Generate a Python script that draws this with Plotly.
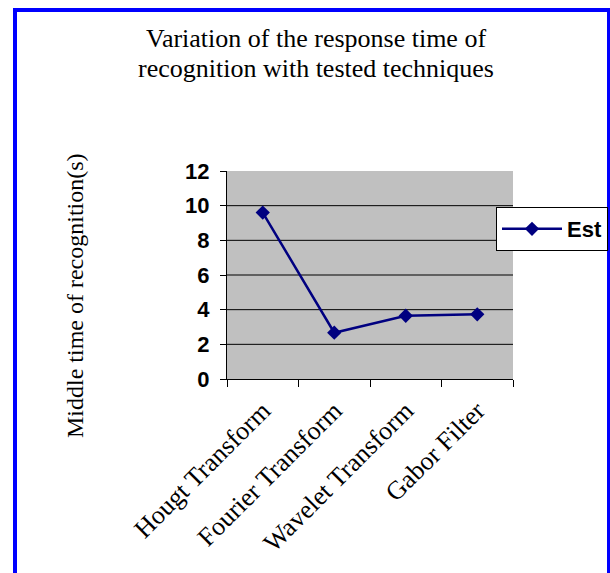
import plotly.graph_objects as go

categories = ["Hougt Transform", "Fourier Transform", "Wavelet Transform", "Gabor Filter"]
est_values = [9.6, 2.67, 3.65, 3.73]
y_ticks = [0, 2, 4, 6, 8, 10, 12]
grid_levels = [2, 4, 6, 8, 10]
title_lines = ["Variation of the response time of", "recognition with tested techniques"]
y_title = "Middle time of recognition(s)"
series_name = "Est"

W, H = 610, 573
L, R, T, B = 227, 97, 171, 194
pw, ph = W - L - R, H - T - B

def px(x):
    return (x - L) / pw

def py(y):
    return (H - B - y) / ph

fig = go.Figure()
fig.add_trace(go.Scatter(
    x=categories, y=est_values, name=series_name, mode="lines+markers",
    line=dict(color="#000080", width=2.5),
    marker=dict(symbol="diamond", size=11, color="#000080"),
))

shapes = []
for g in grid_levels:
    shapes.append(dict(type="line", xref="paper", yref="y", x0=0, x1=1, y0=g, y1=g,
                       line=dict(color="black", width=1), layer="below"))
shapes.append(dict(type="rect", xref="paper", yref="paper",
                   x0=px(15), x1=px(609), y0=py(10), y1=py(585),
                   line=dict(color="#0000FF", width=4)))

annotations = [
    dict(text=title_lines[0], xref="paper", yref="paper", x=px(316), y=py(38),
         showarrow=False, xanchor="center", yanchor="middle",
         font=dict(family="Liberation Serif", size=26, color="black")),
    dict(text=title_lines[1], xref="paper", yref="paper", x=px(316), y=py(68),
         showarrow=False, xanchor="center", yanchor="middle",
         font=dict(family="Liberation Serif", size=26, color="black")),
    dict(text=y_title, xref="paper", yref="paper", x=px(75), y=py(296),
         showarrow=False, xanchor="center", yanchor="middle", textangle=-90,
         font=dict(family="Liberation Serif", size=24, color="black")),
]

fig.update_layout(
    width=W, height=H,
    margin=dict(l=L, r=R, t=T, b=B, autoexpand=False),
    paper_bgcolor="white", plot_bgcolor="#C0C0C0",
    shapes=shapes, annotations=annotations,
    showlegend=True,
    legend=dict(xref="container", yref="container",
                x=496 / W, y=(H - 207) / H, xanchor="left", yanchor="top",
                bgcolor="white", bordercolor="black", borderwidth=1,
                font=dict(family="Liberation Sans", size=22, color="black", weight="bold"),
                itemwidth=60),
    xaxis=dict(type="category", range=[-0.5, 3.5], tickson="boundaries",
               ticks="outside", ticklen=7, automargin=False, ticklabelstandoff=5,
               tickcolor="black", showline=True, linecolor="black", linewidth=1,
               showgrid=False, tickangle=-45,
               tickfont=dict(family="Liberation Serif", size=26, color="black")),
    yaxis=dict(range=[0, 12], tickvals=y_ticks, ticks="outside", ticklen=6,
               tickcolor="black", showline=True, linecolor="black", linewidth=1,
               showgrid=False, zeroline=False, ticklabelstandoff=6, automargin=False,
               tickfont=dict(family="Liberation Sans", size=22, color="black", weight="bold")),
)

fig.write_html("out.html")
